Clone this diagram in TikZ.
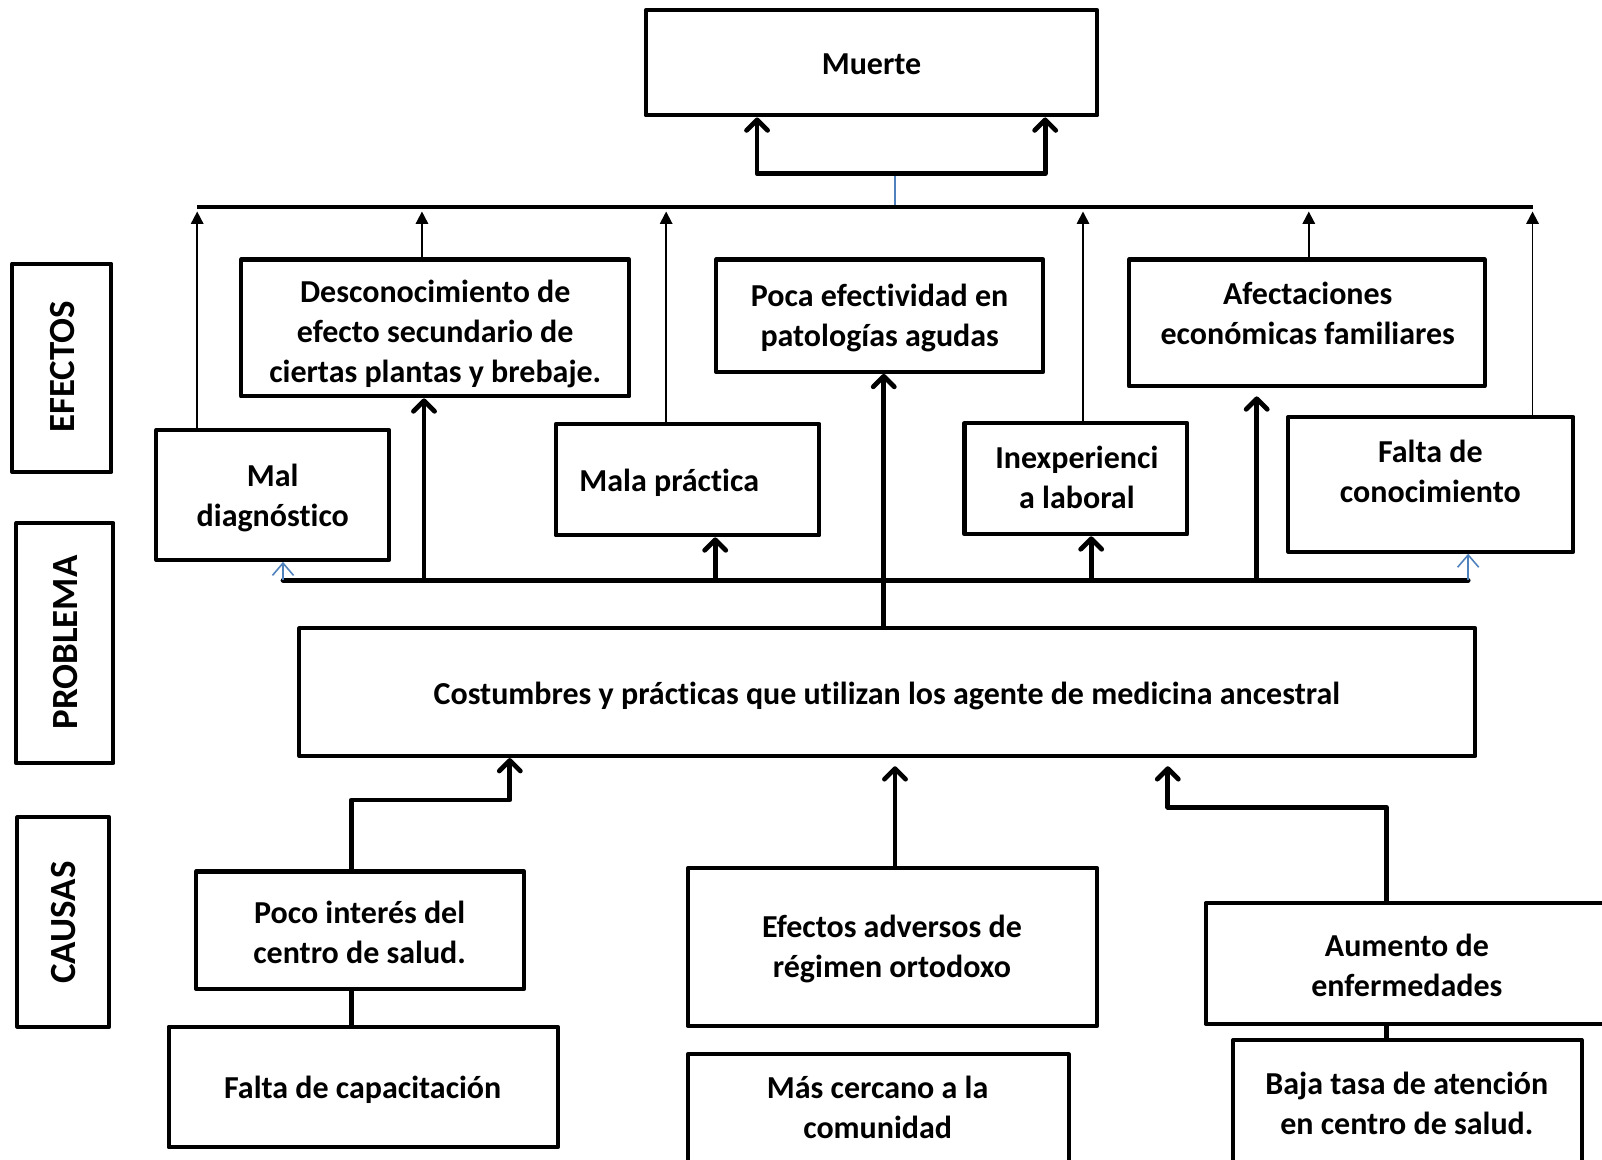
\documentclass[tikz,border=0pt]{standalone}
\usepackage{fontspec}
\setmainfont{Carlito}[Ligatures={NoCommon,NoRare},RawFeature={-liga;-dlig}]
\usetikzlibrary{arrows.meta,fit}
\definecolor{oblue}{HTML}{4F81BD}
\begin{document}
\begin{tikzpicture}[x=0.020434cm,y=-0.020434cm,
  box/.style={draw=black,line width=2.3pt,inner sep=0pt,line join=round},
  txt/.style={font=\fontsize{18.2}{22.7}\selectfont\bfseries,align=center,inner sep=0pt},
  vtxt/.style={font=\fontsize{21}{25}\selectfont\bfseries,rotate=90,inner sep=0pt},
  thickarr/.style={line width=2.7pt,line cap=round,line join=round,-{Straight Barb[length=6pt,width=12pt,round]}},
  thickline/.style={line width=2.7pt,line cap=round,line join=round},
  thinarr/.style={line width=1pt,-{Triangle[length=7pt,width=7pt]}},
  bluearr/.style={draw=oblue,line width=0.9pt,-{Straight Barb[length=7pt,width=12pt]}}]
\useasboundingbox (0,0) rectangle (1568,1135);
\clip (0,0) rectangle (1568,1135);

% side labels
\node[box,fit={(12,258) (109,462)}] (ef) {};
\node[vtxt] (efT) at (61,359) {EFECTOS};
\node[box,fit={(16,512) (111,747)}] (pr) {};
\node[vtxt] (prT) at (64,629) {PROBLEMA};
\node[box,fit={(17,800) (107,1005)}] (ca) {};
\node[vtxt] (caT) at (62,903) {CAUSAS};

% top
\node[box,fit={(632,10) (1074,113)}] (mu) {};
\node[txt] (muT) at (853,63) {Muerte};

% effects
\node[box,fit={(236,254) (616,388)}] (des) {};
\node[txt] (desT) at (426,327) {Desconocimiento de\\efecto secundario de\\ciertas plantas y brebaje.};
\node[box,fit={(701,254) (1021,364)}] (poca) {};
\node[txt] (pocaT) at (861,311) {Poca efectividad en\\patologías agudas};
\node[box,fit={(1105,254) (1453,378)}] (afe) {};
\node[txt] (afeT) at (1280,307) {Afectaciones\\económicas familiares};
\node[box,fit={(153,421) (381,548)}] (mal) {};
\node[txt] (malT) at (267,487) {Mal\\diagnóstico};
\node[box,fit={(544,415) (802,524)}] (mpr) {};
\node[txt] (mprT) at (655,473) {Mala práctica};
\node[box,fit={(944,414) (1162,523)}] (inx) {};
\node[txt] (inxT) at (1054,467) {Inexperienci\\a laboral};
\node[box,fit={(1261,408) (1540,540)}] (fco) {};
\node[txt] (fcoT) at (1400,461) {Falta de\\conocimiento};

% problem
\node[box,fit={(293,615) (1444,740)}] (prob) {};
\node[txt] (probT) at (868,681) {Costumbres y prácticas que utilizan los agente de medicina ancestral};

% causes
\node[box,fit={(192,853) (513,968)}] (poco) {};
\node[txt] (pocoT) at (352,913) {Poco interés del\\centro de salud.};
\node[box,fit={(673,850) (1074,1004)}] (efa) {};
\node[txt] (efaT) at (873,929) {Efectos adversos de\\régimen ortodoxo};
\node[box,fit={(1180,884) (1580,1002)}] (aum) {};
\node[txt] (aumT) at (1377,945) {Aumento de\\enfermedades};
\node[box,fit={(165,1005) (546,1123)}] (fca) {};
\node[txt] (fcaT) at (355,1067) {Falta de capacitación};
\node[box,fit={(673,1032) (1046,1150)}] (mas) {};
\node[txt] (masT) at (859,1084) {Más cercano a la\\comunidad};
\node[box,fit={(1207,1018) (1548,1150)}] (baj) {};
\node[txt] (bajT) at (1377,1080) {Baja tasa de atención\\en centro de salud.};

% coordinates
\coordinate (tl) at (193,203);
\coordinate (tr) at (1500,203);
\coordinate (t1) at (193,207);
\coordinate (t2) at (413,207);
\coordinate (t3) at (652,207);
\coordinate (t4) at (1060,207);
\coordinate (t5) at (1281,207);
\coordinate (t6) at (1500,207);
\coordinate (ma) at (741,170);
\coordinate (mb) at (1023,170);
\coordinate (bl) at (876,203);
\coordinate (ll) at (277,568);
\coordinate (lr) at (1437,568);
\coordinate (a1) at (415,568);
\coordinate (a2) at (700,568);
\coordinate (a3) at (1068,568);
\coordinate (a4) at (1230,568);
\coordinate (c1) at (344,783);
\coordinate (c1b) at (499,783);
\coordinate (c2) at (876,750);
\coordinate (c3) at (1357,790);
\coordinate (c3b) at (1143,790);

% Muerte connectors
\draw[thickline,{Straight Barb[length=6pt,width=12pt,round]}-{Straight Barb[length=6pt,width=12pt,round]}]
  (mu.south -| ma) -- (ma) -- (mb) -- (mu.south -| mb);
\draw[draw=oblue,line width=0.9pt] (876,172) -- (bl);
\draw[line width=2.3pt] (tl) -- (tr);

% thin arrows to top line
\draw[thinarr] (mal.north -| t1) -- (t1);
\draw[thinarr] (des.north -| t2) -- (t2);
\draw[thinarr] (mpr.north -| t3) -- (t3);
\draw[thinarr] (inx.north -| t4) -- (t4);
\draw[thinarr] (afe.north -| t5) -- (t5);
\draw[thinarr] (fco.north -| t6) -- (t6);

% lower horizontal line
\draw[thickline] (ll) -- (lr);
\draw[thickarr] (a1) -- (des.south -| a1);
\draw[thickarr] (a2) -- (mpr.south -| a2);
\draw[thickarr] (a3) -- (inx.south -| a3);
\draw[thickarr] (a4) -- (1230,388);
\draw[thickarr] (prob.north -| 865,0) -- (poca.south -| 865,0);
\draw[bluearr] (ll) -- (mal.south -| ll);
\draw[bluearr] (lr) -- (fco.south -| lr);

% causes connectors
\draw[thickarr] (poco.north -| c1) -- (c1) -- (c1b) -- (499,742);
\draw[thickarr] (efa.north -| c2) -- (c2);
\draw[thickarr] (aum.north -| c3) -- (c3) -- (c3b) -- (1143,750);
\draw[thickline,line cap=butt] (poco.south -| c1) -- (fca.north -| c1);
\draw[thickline,line cap=butt] (aum.south -| c3) -- (baj.north -| c3);
\end{tikzpicture}
\end{document}
